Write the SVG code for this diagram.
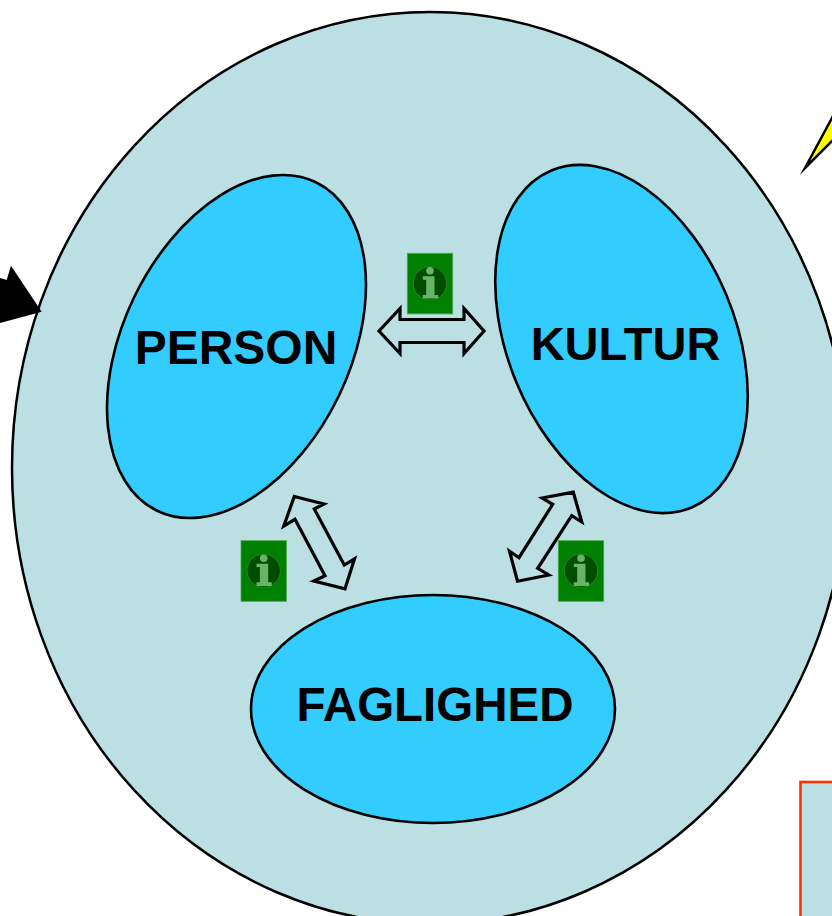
<svg xmlns="http://www.w3.org/2000/svg" xmlns:xlink="http://www.w3.org/1999/xlink" width="832" height="916" viewBox="0 0 832 916">
<style>
.main{fill:#bbdfe3;stroke:#000;stroke-width:2.5}
.lobe{fill:#33ccff;stroke:#000;stroke-width:2.6}
.label{font-family:"Liberation Sans",Arial,sans-serif;font-weight:bold;font-size:48px;fill:#000;text-anchor:middle}
.link{fill:none;stroke:#000;stroke-width:3.2;stroke-miterlimit:10}
.pad{fill:#008000;stroke:#4ca64c;stroke-width:.8}
.disc{fill:#004d00;stroke:#2e8b2e;stroke-width:.8}
.glyph{fill:#66b566}
</style>
<defs>
<g id="info">
<rect class="pad" x="0" y="0" width="45.4" height="60.6"/>
<circle class="disc" cx="22.7" cy="30" r="16.7"/>
<circle class="glyph" cx="22.7" cy="17.5" r="3.8"/>
<path class="glyph" d="M15.5 23h11.7v18.6h3.6v3.7H15.5v-3.7h3.4V26.4h-3.4z"/>
</g>
</defs>
<rect width="832" height="916" fill="#fff"/>
<g id="red-box"><rect x="800.5" y="782" width="60" height="170" fill="#bbdfe3" stroke="#ff3300" stroke-width="2.6"/></g>
<g id="yellow-arrow"><polygon points="805,168 840,103 840,133" fill="#ffff00" stroke="#000" stroke-width="2.5" stroke-miterlimit="10"/></g>
<g id="whole"><ellipse class="main" cx="430" cy="468" rx="418" ry="456"/></g>
<g id="black-arrow"><polygon points="41.7,311.7 11,265.7 6.7,280 0,278 0,323" fill="#000"/></g>
<g id="person"><ellipse class="lobe" cx="236.5" cy="346.5" rx="182.4" ry="113.6" transform="rotate(-64.2 236.5 346.5)"/><text class="label" x="236" y="364">PERSON</text></g>
<g id="kultur"><ellipse class="lobe" cx="621.5" cy="339" rx="182.5" ry="113.7" transform="rotate(67.4 621.5 339)"/><text class="label" style="font-size:47px" x="625.5" y="360">KULTUR</text></g>
<g id="faglighed"><ellipse class="lobe" cx="433" cy="709" rx="182" ry="114"/><text class="label" style="font-size:47.5px" x="435" y="721">FAGLIGHED</text></g>
<g id="connectors">
<polygon class="link" points="379,331 400,308.5 400,319.5 464,319.5 464,308.5 484,331 464,353.5 464,342.5 400,342.5 400,353.5"/>
<polygon class="link" points="294.3,496.5 324,504 314.3,509 344.3,565 354.5,558.8 345,588.8 313.8,581 325,575.7 295,519.3 283.8,526"/>
<polygon class="link" points="573.3,492.2 581.8,522 571.7,515.7 537.7,568.3 548.8,575 517.5,581.2 509.5,551.2 519,557.7 552.7,504.3 542.2,498"/>
</g>
<g id="info-1"><use xlink:href="#info" href="#info" x="407.3" y="253.3"/></g>
<g id="info-2"><use xlink:href="#info" href="#info" x="241" y="540.7"/></g>
<g id="info-3"><use xlink:href="#info" href="#info" x="558.3" y="540.7"/></g>
</svg>
